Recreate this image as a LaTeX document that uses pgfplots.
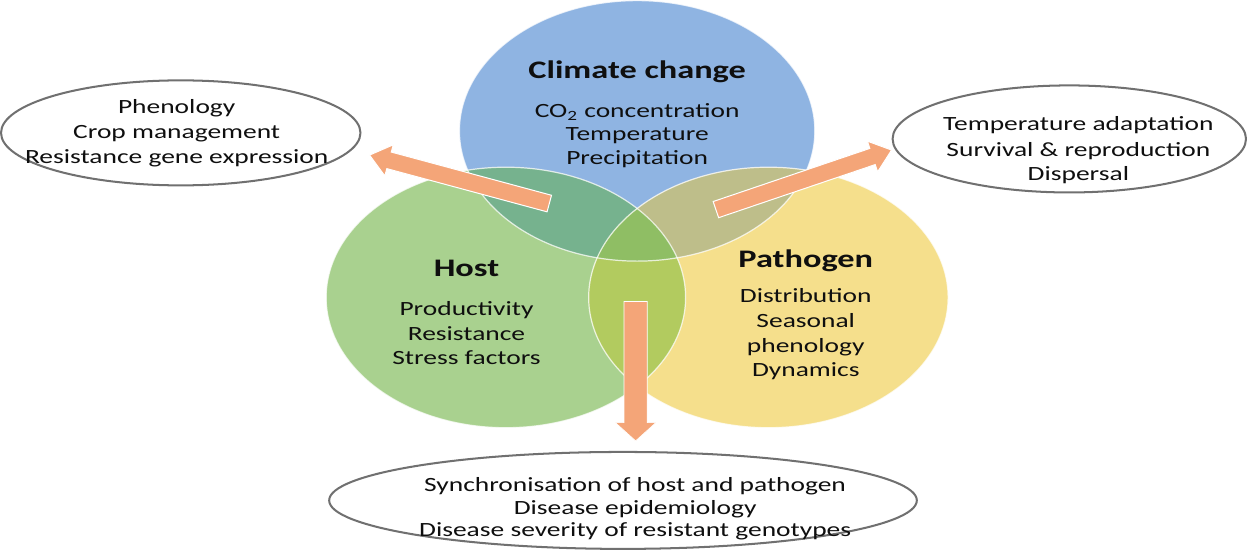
\documentclass[border=0pt]{standalone}
\usepackage{fontspec}
\setmainfont{Carlito}[FakeStretch=1.36]
\usepackage{pgfplots}
\pgfplotsset{compat=1.18}
\definecolor{cblue}{RGB}{143,180,226}
\definecolor{cgreen}{RGB}{169,209,143}
\definecolor{cyellow}{RGB}{245,223,140}
\definecolor{cBG}{RGB}{118,178,142}
\definecolor{cBY}{RGB}{190,190,138}
\definecolor{cGY}{RGB}{178,203,95}
\definecolor{cBGY}{RGB}{143,190,100}
\definecolor{carrow}{RGB}{244,165,120}
\definecolor{cgray}{RGB}{112,112,112}
\definecolor{ctext}{RGB}{15,15,15}
\newcommand{\bodyfont}{\fontsize{10}{12}\selectfont}
\newcommand{\titlefont}{\fontsize{12.5}{15}\selectfont\bfseries}
\begin{document}
\begin{tikzpicture}
\begin{axis}[hide axis, scale only axis, width=623.5pt, height=277pt,
  xmin=0, xmax=1247, ymin=0, ymax=554, y dir=reverse, clip=false]
% three sets
\fill[cblue] (axis cs:640,139) ellipse [x radius=176, y radius=129];
\fill[cgreen] (axis cs:510,304) ellipse [x radius=178, y radius=129];
\fill[cyellow] (axis cs:770,304) ellipse [x radius=178, y radius=129];
\begin{scope}
\clip (axis cs:640,139) ellipse [x radius=176, y radius=129];
\fill[cBG] (axis cs:510,304) ellipse [x radius=178, y radius=129];
\end{scope}
\begin{scope}
\clip (axis cs:640,139) ellipse [x radius=176, y radius=129];
\fill[cBY] (axis cs:770,304) ellipse [x radius=178, y radius=129];
\end{scope}
\begin{scope}
\clip (axis cs:510,304) ellipse [x radius=178, y radius=129];
\fill[cGY] (axis cs:770,304) ellipse [x radius=178, y radius=129];
\end{scope}
\begin{scope}
\clip (axis cs:640,139) ellipse [x radius=176, y radius=129];
\clip (axis cs:510,304) ellipse [x radius=178, y radius=129];
\fill[cBGY] (axis cs:770,304) ellipse [x radius=178, y radius=129];
\end{scope}
\draw[white, line width=0.6pt, opacity=0.75] (axis cs:640,139) ellipse [x radius=176, y radius=129];
\draw[white, line width=0.6pt, opacity=0.75] (axis cs:510,304) ellipse [x radius=178, y radius=129];
\draw[white, line width=0.6pt, opacity=0.75] (axis cs:770,304) ellipse [x radius=178, y radius=129];
% outer ovals
\draw[cgray, line width=1pt, fill=white] (axis cs:188,141) ellipse [x radius=178, y radius=52];
\draw[cgray, line width=1pt, fill=white] (axis cs:1068,147) ellipse [x radius=175, y radius=53];
\draw[cgray, line width=1pt, fill=white] (axis cs:626,505) ellipse [x radius=291, y radius=48];
% arrows
\addplot[fill=carrow, draw=white, line width=0.5pt] coordinates {
(555.2,202.8) (396.5,160.0) (398.5,152.8) (375,163) (390.1,183.6) (392.1,176.4) (550.8,219.2)} -- cycle;
\addplot[fill=carrow, draw=white, line width=0.5pt] coordinates {
(720.7,225.0) (875.8,172.4) (878.2,179.6) (892,158) (868.0,149.2) (870.4,156.4) (715.3,209.0)} -- cycle;
\addplot[fill=carrow, draw=white, line width=0.3pt] coordinates {
(627,308) (650,308) (650,428) (658.5,428) (638.5,446) (618.5,428) (627,428)} -- cycle;
% texts
\tikzset{every node/.style={text=ctext, anchor=base, inner sep=0pt}}
\node[font=\titlefont] at (axis cs:640,87) {Climate change};
\node[font=\bodyfont] at (axis cs:640,126) {CO\textsubscript{2} concentration};
\node[font=\bodyfont] at (axis cs:640,149) {Temperature};
\node[font=\bodyfont] at (axis cs:640,172) {Precipitation};
\node[font=\titlefont] at (axis cs:471,283) {Host};
\node[font=\bodyfont] at (axis cs:471,322) {Productivity};
\node[font=\bodyfont] at (axis cs:471,347) {Resistance};
\node[font=\bodyfont] at (axis cs:471,370) {Stress factors};
\node[font=\titlefont] at (axis cs:807,274) {Pathogen};
\node[font=\bodyfont] at (axis cs:807,309) {Distribution};
\node[font=\bodyfont] at (axis cs:807,334) {Seasonal};
\node[font=\bodyfont] at (axis cs:807,359) {phenology};
\node[font=\bodyfont] at (axis cs:807,382) {Dynamics};
\node[font=\bodyfont] at (axis cs:184,122) {Phenology};
\node[font=\bodyfont] at (axis cs:184,147) {Crop management};
\node[font=\bodyfont] at (axis cs:184,171) {Resistance gene expression};
\node[font=\bodyfont] at (axis cs:1077,139) {Temperature adaptation};
\node[font=\bodyfont] at (axis cs:1077,164) {Survival \& reproduction};
\node[font=\bodyfont] at (axis cs:1077,188) {Dispersal};
\node[font=\bodyfont] at (axis cs:638,496) {Synchronisation of host and pathogen};
\node[font=\bodyfont] at (axis cs:638,519) {Disease epidemiology};
\node[font=\bodyfont] at (axis cs:638,541) {Disease severity of resistant genotypes};
\end{axis}
\end{tikzpicture}
\end{document}
